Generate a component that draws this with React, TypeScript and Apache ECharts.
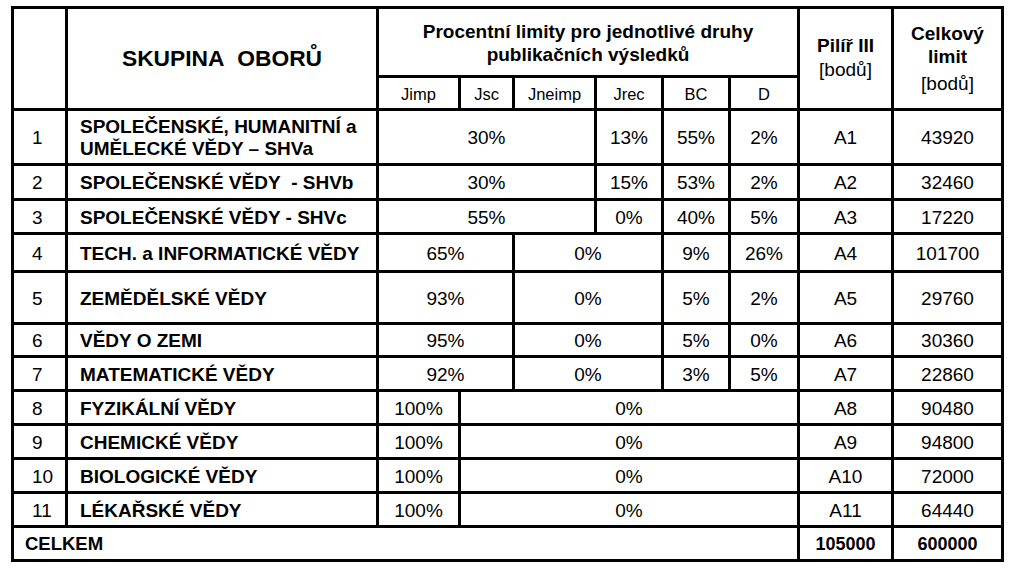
import React, { useEffect, useRef } from "react";
import * as echarts from "echarts";

// ---- data ----
const rowNumbers = ["1", "2", "3", "4", "5", "6", "7", "8", "9", "10", "11"];
const groupNames = [
  "SPOLEČENSKÉ, HUMANITNÍ a\nUMĚLECKÉ VĚDY – SHVa",
  "SPOLEČENSKÉ VĚDY\u00a0\u00a0- SHVb",
  "SPOLEČENSKÉ VĚDY - SHVc",
  "TECH. a INFORMATICKÉ VĚDY",
  "ZEMĚDĚLSKÉ VĚDY",
  "VĚDY O ZEMI",
  "MATEMATICKÉ VĚDY",
  "FYZIKÁLNÍ VĚDY",
  "CHEMICKÉ VĚDY",
  "BIOLOGICKÉ VĚDY",
  "LÉKAŘSKÉ VĚDY",
];
const subHeaders = ["Jimp", "Jsc", "Jneimp", "Jrec", "BC", "D"];
// percentage values per row, and how many of the six sub-columns each value spans
const percentValues = [
  [30, 13, 55, 2],
  [30, 15, 53, 2],
  [55, 0, 40, 5],
  [65, 0, 9, 26],
  [93, 0, 5, 2],
  [95, 0, 5, 0],
  [92, 0, 3, 5],
  [100, 0],
  [100, 0],
  [100, 0],
  [100, 0],
];
const percentSpans = [
  [3, 1, 1, 1],
  [3, 1, 1, 1],
  [3, 1, 1, 1],
  [2, 2, 1, 1],
  [2, 2, 1, 1],
  [2, 2, 1, 1],
  [2, 2, 1, 1],
  [1, 5],
  [1, 5],
  [1, 5],
  [1, 5],
];
const pillarCodes = ["A1", "A2", "A3", "A4", "A5", "A6", "A7", "A8", "A9", "A10", "A11"];
const totalLimits = [43920, 32460, 17220, 101700, 29760, 30360, 22860, 90480, 94800, 72000, 64440];
const totalLabel = "CELKEM";
const totalPillar = 105000;
const totalLimit = 600000;

// ---- layout ----
const FONT = "'Liberation Sans', Arial, Helvetica, sans-serif";
const COLS = [12.5, 66.5, 377.5, 459.5, 513.5, 595.5, 662.5, 729.5, 798.5, 892.5, 1002.5];
const ROWS = [109.5, 164.5, 199.5, 233.5, 271.5, 323.5, 356.5, 390.5, 424.5, 458.5, 492.5, 526.5, 560.5];
const TOP = 7.5;
const HEAD_MID = 76.5;
const LW = 3;

function hLine(y: number, x1: number, x2: number) {
  return {
    type: "rect",
    silent: true,
    shape: { x: x1 - LW / 2, y: y - LW / 2, width: x2 - x1 + LW, height: LW },
    style: { fill: "#000" },
  };
}
function vLine(x: number, y1: number, y2: number) {
  return {
    type: "rect",
    silent: true,
    shape: { x: x - LW / 2, y: y1 - LW / 2, width: LW, height: y2 - y1 + LW },
    style: { fill: "#000" },
  };
}
function txt(
  text: string,
  x: number,
  y: number,
  size: number,
  bold = false,
  align = "center",
  lineHeight?: number
) {
  const style: any = {
    text,
    x: 0,
    y: 0,
    fill: "#000",
    fontSize: size,
    fontFamily: FONT,
    fontWeight: bold ? "bold" : "normal",
    align,
    verticalAlign: "middle",
  };
  if (lineHeight) style.lineHeight = lineHeight;
  return { type: "text", silent: true, x, y, style };
}

function buildElements() {
  const els: any[] = [];
  const L = COLS[0];
  const R = COLS[COLS.length - 1];
  const B = ROWS[ROWS.length - 1];
  const totalTop = ROWS[ROWS.length - 2];

  // background
  els.push({ type: "rect", silent: true, shape: { x: 0, y: 0, width: 1013, height: 569 }, style: { fill: "#fff" } });

  // horizontal lines
  els.push(hLine(TOP, L, R));
  els.push(hLine(HEAD_MID, COLS[2], COLS[8]));
  ROWS.forEach((y) => els.push(hLine(y, L, R)));

  // vertical lines
  els.push(vLine(L, TOP, B));
  els.push(vLine(R, TOP, B));
  els.push(vLine(COLS[8], TOP, B));
  els.push(vLine(COLS[9], TOP, B));
  els.push(vLine(COLS[1], TOP, totalTop));
  els.push(vLine(COLS[2], TOP, totalTop));
  for (let k = 3; k <= 7; k++) els.push(vLine(COLS[k], HEAD_MID, ROWS[0]));

  // header texts
  els.push(txt("SKUPINA\u00a0\u00a0OBORŮ", (COLS[1] + COLS[2]) / 2, 58, 22.8, true));
  els.push(
    txt("Procentní limity pro jednotlivé druhy\npublikačních výsledků", (COLS[2] + COLS[8]) / 2, 42.5, 19, true, "center", 23)
  );
  subHeaders.forEach((h, k) => {
    els.push(txt(h, (COLS[2 + k] + COLS[3 + k]) / 2, 94, 16.5));
  });
  const pilX = (COLS[8] + COLS[9]) / 2;
  const limX = (COLS[9] + COLS[10]) / 2;
  els.push(txt("Pilíř III", pilX, 45, 19, true));
  els.push(txt("[bodů]", pilX, 69.5, 19));
  els.push(txt("Celkový", limX, 33, 19, true));
  els.push(txt("limit", limX, 56, 19, true));
  els.push(txt("[bodů]", limX, 83, 19));

  // body rows
  rowNumbers.forEach((num, i) => {
    const y1 = ROWS[i];
    const y2 = ROWS[i + 1];
    const cy = (y1 + y2) / 2 + 0.5;
    els.push(txt(num, 32, cy, 19, false, "left"));
    els.push(txt(groupNames[i], 80, cy, 19, true, "left", 22.5));
    let start = 0;
    percentSpans[i].forEach((span, j) => {
      const x1 = COLS[2 + start];
      const x2 = COLS[2 + start + span];
      els.push(txt(`${percentValues[i][j]}%`, (x1 + x2) / 2, cy, 19));
      if (start > 0) els.push(vLine(x1, y1, y2));
      start += span;
    });
    els.push(txt(pillarCodes[i], pilX, cy, 19));
    els.push(txt(String(totalLimits[i]), limX, cy, 19));
  });

  // total row
  const ty = (totalTop + B) / 2;
  els.push(txt(totalLabel, 25, ty, 18.5, true, "left"));
  els.push(txt(String(totalPillar), pilX, ty, 18, true));
  els.push(txt(String(totalLimit), limX, ty, 18, true));

  return els;
}

export default function App() {
  const ref = useRef<HTMLDivElement>(null);
  useEffect(() => {
    document.body.style.margin = "0";
    if (!ref.current) return;
    const chart = echarts.init(ref.current, null, { renderer: "svg" });
    chart.setOption({
      animation: false,
      backgroundColor: "#fff",
      graphic: { elements: buildElements() },
    });
    return () => chart.dispose();
  }, []);
  return <div ref={ref} style={{ width: 1013, height: 569 }} />;
}
